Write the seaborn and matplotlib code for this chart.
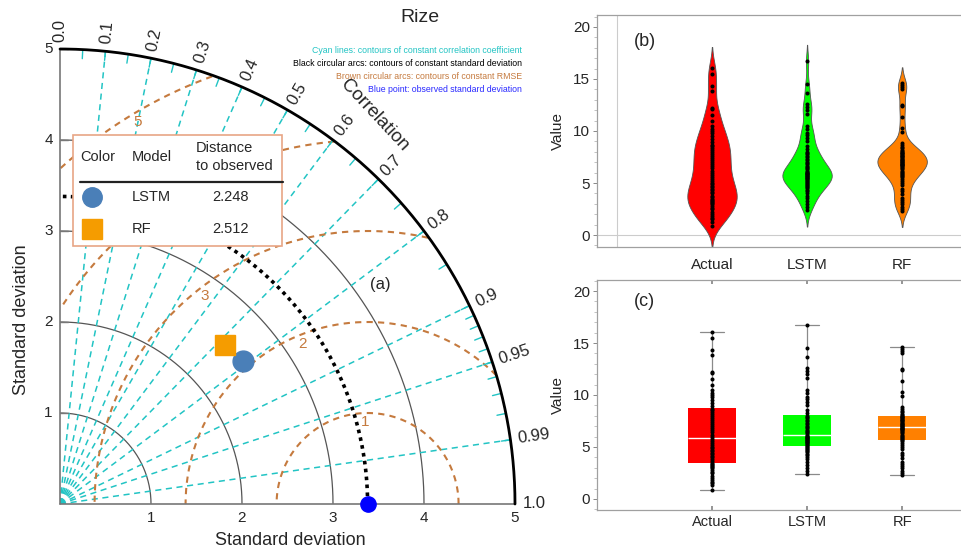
import numpy as np
import pandas as pd
import matplotlib
matplotlib.use("Agg")
import matplotlib.pyplot as plt
from matplotlib.patches import Rectangle
from matplotlib.ticker import AutoMinorLocator
import seaborn as sns

# ---------------- data ----------------
models = ["LSTM", "RF"]
model_std = [2.55, 2.52]
model_corr = [0.787, 0.719]
model_distance = ["2.248", "2.512"]
model_colors = ["#4a7fb8", "#f59c00"]
model_markers = ["o", "s"]
obs_std = 3.38

corr_lines = [0.1, 0.2, 0.3, 0.4, 0.5, 0.6, 0.7, 0.8, 0.9, 0.95, 0.99]
corr_labels = [0.0, 0.1, 0.2, 0.3, 0.4, 0.5, 0.6, 0.7, 0.8, 0.9, 0.95, 0.99, 1.0]
corr_minor = [0.05, 0.15, 0.25, 0.35, 0.45, 0.55, 0.65, 0.75, 0.85,
              0.91, 0.92, 0.93, 0.94, 0.96, 0.97, 0.98]
std_arcs = [1, 2, 3, 4]
std_ticks = [1, 2, 3, 4, 5]
std_max = 5
rmse_levels = [1, 2, 3, 4, 5]
rmse_label_angles = [92, 112, 128, 125, 121]

categories = ["Actual", "LSTM", "RF"]
cat_colors = ["#ff0000", "#00ff00", "#ff8000"]
actual_values = [0.9, 1.3, 1.5, 1.6, 1.8, 2.0, 2.2, 2.5, 2.6, 2.8, 3.0, 3.1, 3.2, 3.3, 3.4,
                 3.5, 3.7, 3.8, 4.0, 4.1, 4.3, 4.4, 4.6, 4.7, 4.9, 5.0, 5.2, 5.4, 5.6, 5.8,
                 6.0, 6.2, 6.4, 6.6, 6.8, 7.0, 7.2, 7.4, 7.6, 7.8, 8.0, 8.2, 8.4, 8.6, 8.7,
                 8.9, 9.2, 9.5, 9.8, 10.0, 10.2, 10.5, 11.0, 11.5, 12.1, 12.2, 13.8, 14.3, 15.5, 16.1]
lstm_values = [2.4, 2.7, 3.0, 3.3, 3.6, 3.8, 4.0, 4.2, 4.3, 4.5, 4.6, 4.7, 4.8, 4.9, 5.0,
               5.1, 5.2, 5.3, 5.4, 5.5, 5.5, 5.6, 5.7, 5.7, 5.8, 5.9, 5.9, 6.0, 6.0, 6.1,
               6.2, 6.3, 6.4, 6.5, 6.6, 6.8, 6.9, 7.0, 7.2, 7.3, 7.5, 7.6, 7.8, 7.9, 8.0,
               8.3, 8.6, 9.0, 9.3, 9.6, 9.8, 10.2, 10.5, 11.6, 12.0, 12.3, 12.6, 13.7, 14.5, 16.7]
rf_values = [2.3, 2.5, 2.7, 3.0, 3.2, 3.4, 3.6, 3.9, 4.2, 4.4, 4.8, 5.0, 5.2, 5.4, 5.6,
             5.7, 5.8, 5.9, 6.0, 6.1, 6.2, 6.3, 6.4, 6.5, 6.6, 6.7, 6.7, 6.8, 6.8, 6.9,
             7.0, 7.0, 7.1, 7.2, 7.2, 7.3, 7.4, 7.5, 7.6, 7.6, 7.7, 7.8, 7.9, 7.9, 8.0,
             8.1, 8.2, 8.4, 8.5, 8.7, 8.8, 9.9, 10.3, 11.3, 12.4, 12.5, 14.0, 14.2, 14.4, 14.6]

# ---------------- style ----------------
sns.set_theme(style="white")
plt.rcParams["font.family"] = ["Liberation Sans", "DejaVu Sans"]

W, H = 962, 553
fig = plt.figure(figsize=(W / 100, H / 100), dpi=100)

# ---------------- Taylor diagram (a) ----------------
ox, oy, R_px = 60, 504, 455
ax = fig.add_axes([ox / W, (H - oy) / H, R_px / W, R_px / H])
ax.set_xlim(0, std_max)
ax.set_ylim(0, std_max)
ax.axis("off")

cyan = "#22c4c4"
brown = "#c57a3e"
th = np.linspace(0, np.pi / 2, 400)

for r in std_arcs:
    ax.plot(r * np.cos(th), r * np.sin(th), color="#555555", lw=0.9, zorder=2)
ax.plot(std_max * np.cos(th), std_max * np.sin(th), color="black", lw=2.0, zorder=4, clip_on=False)
ax.plot([0, std_max], [0, 0], color="#777777", lw=1.2, zorder=3, clip_on=False)
ax.plot([0, 0], [0, std_max], color="#777777", lw=1.2, zorder=3, clip_on=False)

for c in corr_lines:
    a = np.arccos(c)
    ax.plot([0, std_max * np.cos(a)], [0, std_max * np.sin(a)], color=cyan,
            lw=1.1, ls=(0, (4, 3)), zorder=2)
for c in corr_minor + corr_lines:
    a = np.arccos(c)
    ax.plot([4.9 * np.cos(a), std_max * np.cos(a)], [4.9 * np.sin(a), std_max * np.sin(a)],
            color=cyan, lw=1.0, zorder=3)
for c in corr_labels:
    a = np.arccos(c)
    ax.text(5.08 * np.cos(a), 5.08 * np.sin(a), f"{c:g}" if c not in (0.0, 1.0) else f"{c:.1f}",
            rotation=np.degrees(a), rotation_mode="anchor", ha="left", va="center",
            fontsize=12, clip_on=False)
ang = np.radians(51)
ax.text(5.5 * np.cos(ang), 5.5 * np.sin(ang), "Correlation", rotation=-47,
        rotation_mode="anchor", ha="center", va="center", fontsize=13.5, clip_on=False)

# RMSE contours
ph = np.linspace(0, np.pi, 600)
for R, la in zip(rmse_levels, rmse_label_angles):
    x = obs_std + R * np.cos(ph)
    y = R * np.sin(ph)
    bad = (np.hypot(x, y) > std_max) | (x < 0)
    x = np.where(bad, np.nan, x)
    y = np.where(bad, np.nan, y)
    ax.plot(x, y, color=brown, lw=1.5, ls=(0, (3, 2.5)), zorder=2)
    a = np.radians(la)
    ax.text(obs_std + (R - 0.1) * np.cos(a), (R - 0.1) * np.sin(a), str(R),
            color=brown, fontsize=11, ha="center", va="center", zorder=3)

# observed std arc
ax.plot(obs_std * np.cos(th), obs_std * np.sin(th), color="black", lw=2.6,
        ls=(0, (1, 1.2)), zorder=5)
ax.plot([obs_std], [0], "o", color="#0000ff", ms=11, zorder=12, clip_on=False)

for s, c, col, mk in zip(model_std, model_corr, model_colors, model_markers):
    a = np.arccos(c)
    ax.plot([s * np.cos(a)], [s * np.sin(a)], marker=mk, color=col, ms=15 if mk == "o" else 14.5,
            ls="none", zorder=11)

# std ticks and labels
for t in std_ticks:
    ax.text(t, -0.08, str(t), ha="center", va="top", fontsize=11, clip_on=False)
    ax.text(-0.08, t, str(t), ha="right", va="center", fontsize=11, clip_on=False)
    ax.plot([0, 0.09], [t, t], color="#777777", lw=1.0, zorder=3)
ax.text(2.53, -0.4, "Standard deviation", ha="center", va="center", fontsize=13, clip_on=False)
ax.text(-0.42, 2.02, "Standard deviation", ha="center", va="center", rotation=90,
        fontsize=13, clip_on=False)

# explanatory notes
notes = ["Cyan lines: contours of constant correlation coefficient",
         "Black circular arcs: contours of constant standard deviation",
         "Brown circular arcs: contours of constant RMSE",
         "Blue point: observed standard deviation"]
note_colors = [cyan, "black", brown, "#2a2aff"]
for i, (t, col) in enumerate(zip(notes, note_colors)):
    ax.text(5.08, 4.98 - i * 0.143, t, ha="right", va="center", fontsize=6.3,
            color=col, clip_on=False)
ax.text(3.52, 2.41, "(a)", ha="center", va="center", fontsize=12)

# legend table
ax.add_patch(Rectangle((0.143, 2.835), 2.297, 1.22, facecolor="white",
                       edgecolor="#e8a585", lw=1.2, zorder=20))
ax.text(0.22, 3.81, "Color", ha="left", va="center", fontsize=10.5, zorder=21)
ax.text(0.79, 3.81, "Model", ha="left", va="center", fontsize=10.5, zorder=21)
ax.text(1.49, 3.81, "Distance\nto observed", ha="left", va="center", fontsize=10.5,
        linespacing=1.35, zorder=21)
ax.plot([0.22, 2.45], [3.54, 3.54], color="#222222", lw=1.6, zorder=21)
for i, (m, d, col, mk) in enumerate(zip(models, model_distance, model_colors, model_markers)):
    yy = 3.37 - i * 0.35
    ax.plot([0.35], [yy], marker=mk, color=col, ms=14, ls="none", zorder=21)
    ax.text(0.79, yy, m, ha="left", va="center", fontsize=10.5, zorder=21)
    ax.text(1.87, yy, d, ha="center", va="center", fontsize=10.5, zorder=21)

fig.text(420 / W, 1 - 18 / H, "Rize", ha="center", va="center", fontsize=14)

# ---------------- right panels ----------------
df = pd.DataFrame({
    "Model": np.repeat(categories, [len(actual_values), len(lstm_values), len(rf_values)]),
    "Value": actual_values + lstm_values + rf_values,
})
pal = dict(zip(categories, cat_colors))

def style_panel(a):
    for sp in ["left", "top", "bottom"]:
        a.spines[sp].set_color("#a0a0a0")
        a.spines[sp].set_linewidth(0.9)
    a.spines["right"].set_visible(False)
    a.set_xlim(-1.21, 2.63)
    a.set_yticks([0, 5, 10, 15, 20])
    a.yaxis.set_minor_locator(AutoMinorLocator(5))
    a.tick_params(axis="y", which="major", left=True, length=3, width=0.7,
                  color="#888888", labelsize=11, direction="out", pad=2)
    a.tick_params(axis="y", which="minor", left=True, length=2, width=0.5, color="#aaaaaa")
    a.set_xlabel("")
    a.set_ylabel("Value", fontsize=11, labelpad=6)

# (b) violin
axb = fig.add_axes([597 / W, (H - 247) / H, 1 - 597 / W, 232 / H])
axb.axhline(0, color="#cccccc", lw=0.8, zorder=0)
axb.axvline(-1, color="#cccccc", lw=0.8, zorder=0)
sns.violinplot(data=df, x="Model", y="Value", hue="Model", palette=pal, order=categories,
               hue_order=categories, inner=None, density_norm="width", width=0.52,
               bw_adjust=0.6, cut=2, linewidth=0.6, linecolor="#555555", saturation=1,
               legend=False, ax=axb)
sns.stripplot(data=df, x="Model", y="Value", order=categories, jitter=False, color="black",
              size=2.9, ax=axb, zorder=5)
style_panel(axb)
axb.set_ylim(-1.15, 21.15)
axb.tick_params(axis="x", labelsize=11, bottom=False, pad=2)
axb.text(0.13, 0.885, "(b)", transform=axb.transAxes, fontsize=13, ha="center", va="center")

# (c) box
axc = fig.add_axes([597 / W, (H - 510) / H, 1 - 597 / W, 230 / H])
sns.boxplot(data=df, x="Model", y="Value", hue="Model", palette=pal, order=categories,
            hue_order=categories, width=0.5, whis=(0, 100), showfliers=False,
            saturation=1, linewidth=0.9, linecolor="#8a8a8a",
            boxprops={"edgecolor": "none"},
            medianprops={"color": "white", "linewidth": 1.0},
            legend=False, ax=axc)
sns.stripplot(data=df, x="Model", y="Value", order=categories, jitter=False, color="black",
              size=2.9, ax=axc, zorder=5)
style_panel(axc)
axc.set_ylim(-1.06, 21.06)
axc.tick_params(axis="x", labelsize=10.5, bottom=True, top=True, direction="in",
                length=3, color="#888888")
axc.text(0.13, 0.905, "(c)", transform=axc.transAxes, fontsize=13, ha="center", va="center")

fig.savefig("out.png", dpi=100)
